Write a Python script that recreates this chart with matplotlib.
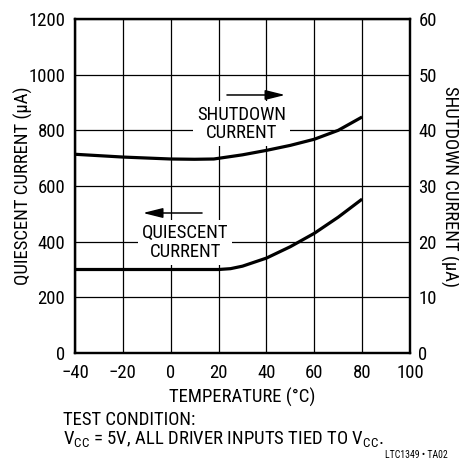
import numpy as np
import matplotlib
matplotlib.use("Agg")
import matplotlib.pyplot as plt

FONT = 'Roboto Condensed'
plt.rcParams['font.family'] = [FONT, 'DejaVu Sans']
plt.rcParams['mathtext.fontset'] = 'custom'
plt.rcParams['mathtext.rm'] = FONT

# data
temp_q = [-40, -20, 0, 20, 25, 30, 40, 50, 60, 70, 80]
quiescent = [300, 300, 300, 300, 303, 312, 341, 382, 430, 488, 553]   # uA, left axis
temp_s = [-40, -20, 0, 10, 18, 30, 40, 50, 60, 70, 80]
shutdown = [35.7, 35.2, 34.85, 34.8, 34.85, 35.6, 36.4, 37.3, 38.4, 40.0, 42.4]  # uA, right axis

x_ticks = [-40, -20, 0, 20, 40, 60, 80, 100]
x_labels = ['\u221240', '\u221220', '0', '20', '40', '60', '80', '100']
yl_ticks = [0, 200, 400, 600, 800, 1000, 1200]
yr_ticks = [0, 10, 20, 30, 40, 50, 60]

FS = 13.5
W, H = 459, 461
fig = plt.figure(figsize=(W / 100, H / 100), dpi=100)
ax = fig.add_axes([75 / W, 1 - 353 / H, 335 / W, 334 / H])

ax.set_xlim(-40, 100)
ax.set_ylim(0, 1200)
ax.set_xticks(x_ticks)
ax.set_xticklabels(x_labels)
ax.set_yticks(yl_ticks)
ax.grid(True, color='black', linewidth=0.9)
ax.set_axisbelow(True)
ax.tick_params(length=0, labelsize=FS)
ax.tick_params(axis='y', pad=7)
ax.tick_params(axis='x', pad=8)
for s in ax.spines.values():
    s.set_linewidth(1.6)

ax2 = ax.twinx()
ax2.set_ylim(0, 60)
ax2.set_yticks(yr_ticks)
ax2.tick_params(length=0, labelsize=FS, pad=6)
for s in ax2.spines.values():
    s.set_linewidth(1.6)

ax.plot(temp_q, quiescent, color='black', linewidth=2.3, solid_capstyle='butt', zorder=3)
ax2.plot(temp_s, shutdown, color='black', linewidth=2.3, solid_capstyle='butt', zorder=3)

ax.set_xlabel('TEMPERATURE (\u00b0C)', fontsize=FS)
ax.xaxis.set_label_coords(0.5, -0.103)
fig.text(23 / W, 1 - 186 / H, 'QUIESCENT CURRENT (\u00b5A)', fontsize=FS,
         rotation=90, ha='center', va='center')
fig.text(450 / W, 1 - 186 / H, 'SHUTDOWN CURRENT (\u00b5A)', fontsize=FS,
         rotation=-90, ha='center', va='center')

box = dict(facecolor='white', edgecolor='none', pad=3)
ax.text(29.5, 823, 'SHUTDOWN\nCURRENT', ha='center', va='center', fontsize=FS,
        linespacing=1.05, bbox=box, zorder=2)
ax.text(6, 397, 'QUIESCENT\nCURRENT', ha='center', va='center', fontsize=FS,
        linespacing=1.05, bbox=box, zorder=2)

arrow = dict(arrowstyle='-|>,head_length=1.0,head_width=0.25', color='black', lw=1.1,
             mutation_scale=12, shrinkA=0, shrinkB=0)
ax.annotate('', xy=(47.8, 927), xytext=(23.5, 927), arrowprops=arrow, zorder=2)
ax.annotate('', xy=(-11.6, 503), xytext=(13.1, 503), arrowprops=arrow, zorder=2)

fig.text(63 / W, 1 - 419.5 / H, 'TEST CONDITION:', fontsize=FS, va='center')
fig.text(63 / W, 1 - 440 / H, r'V$_{\rm CC}$ = 5V, ALL DRIVER INPUTS TIED TO V$_{\rm CC}$.',
         fontsize=FS, va='center')
fig.text(448 / W, 1 - 455 / H, 'LTC1349 \u2022 TA02', fontsize=7, ha='right', va='center')

fig.savefig('out.png', dpi=100)
